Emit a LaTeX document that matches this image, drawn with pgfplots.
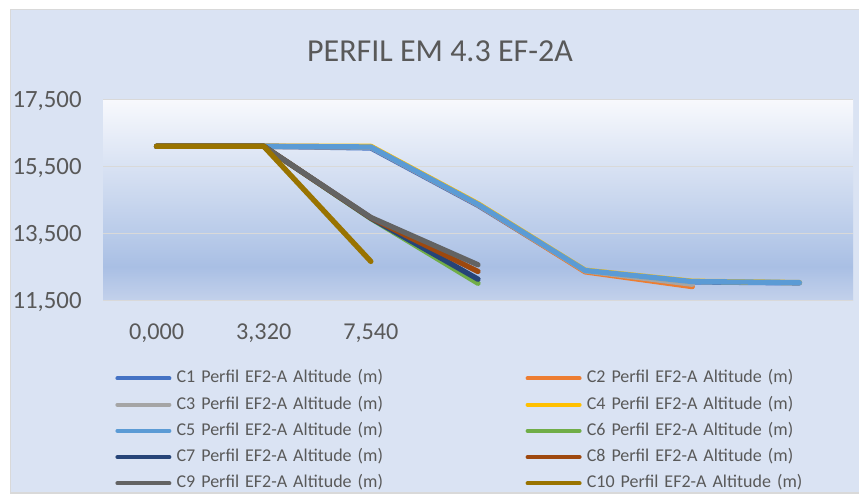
\documentclass[border=0pt]{standalone}
\usepackage{pgfplots}
\pgfplotsset{compat=1.18}
\usepackage{fontspec}
\setmainfont{Carlito}
\definecolor{txt}{HTML}{595959}
\definecolor{bgc}{HTML}{DAE3F3}
\definecolor{borderc}{HTML}{D9D9D9}
\definecolor{gridc}{HTML}{D9D9D9}
\definecolor{gbot}{HTML}{C3D1EB}
\definecolor{gdark}{HTML}{A9BFE4}
\definecolor{gmid}{HTML}{B2C6E7}
\definecolor{gtop}{HTML}{F8F9FD}
\definecolor{c1}{HTML}{4472C4}
\definecolor{c2}{HTML}{ED7D31}
\definecolor{c3}{HTML}{A5A5A5}
\definecolor{c4}{HTML}{FFC000}
\definecolor{c5}{HTML}{5B9BD5}
\definecolor{c6}{HTML}{70AD47}
\definecolor{c7}{HTML}{264478}
\definecolor{c8}{HTML}{9E480E}
\definecolor{c9}{HTML}{636363}
\definecolor{c10}{HTML}{997300}
\pgfdeclareverticalshading{plotbg}{100bp}{color(0bp)=(gbot); color(25bp)=(gbot); color(33.5bp)=(gdark); color(38bp)=(gmid); color(75bp)=(gtop); color(100bp)=(gtop)}
\begin{document}
\begin{tikzpicture}
\useasboundingbox (0,0) rectangle (429.5bp,-247bp);
\fill[white] (0,0) rectangle (429.5bp,-247bp);
\filldraw[fill=bgc, draw=borderc, line width=0.75bp] (5.25bp,-4.75bp) rectangle (432bp,-246.4bp);
\node[font=\fontsize{16bp}{19bp}\selectfont, text=txt, inner sep=0pt] at (220bp,-25.7bp) {PERFIL EM 4.3 EF-2A};
\begin{axis}[
  scale only axis, width=375bp, height=100.7bp,
  at={(51.5bp,-150.35bp)}, anchor=south west,
  xmin=-0.5, xmax=6.5, ymin=11500, ymax=17500,
  scaled y ticks=false,
  axis line style={draw=none}, tick style={draw=none}, major tick length=0pt,
  ytick={11500,13500,15500,17500},
  yticklabels={{11,500},{13,500},{15,500},{17,500}},
  xtick={0,1,2},
  xticklabels={{0,000},{3,320},{7,540}},
  ymajorgrids, grid style={draw=gridc, line width=0.75bp},
  axis background/.style={shade, shading=plotbg},
  tick label style={text=txt, inner sep=0pt},
  yticklabel style={font=\fontsize{12.4bp}{14bp}\selectfont, anchor=base east, xshift=-10.5bp, yshift=-3.9bp},
  xticklabel style={font=\fontsize{12.1bp}{14bp}\selectfont, anchor=base, yshift=-19.3bp},
  legend columns=2,
  legend cell align=left,
  legend style={at={(axis description cs:0.0160,-0.3370)}, anchor=north west, draw=none, fill=none, inner sep=0pt, row sep=3.6bp, font=\fontsize{9bp}{11bp}\selectfont, text=txt,
    nodes={inner sep=0pt, text height=7bp, text depth=2.5bp, text width=174.5bp, align=left, text=txt},
    /tikz/every odd column/.append style={column sep=2.6bp}},
  legend image code/.code={\draw[#1, line width=2bp, line cap=round] (0bp,0bp) -- (26bp,0bp);},
  every axis plot/.append style={line width=2.65bp, line cap=round, line join=round},
]
\addplot[color=c1] coordinates {(0,16100)(1,16100)(2,16050)(3,14340)(4,12380)(5,12060)(6,12030)};
\addlegendentry{C1 Perfil EF2-A Altitude (m)}
\addplot[color=c2] coordinates {(0,16100)(1,16100)(2,16080)(3,14360)(4,12360)(5,11920)};
\addlegendentry{C2 Perfil EF2-A Altitude (m)}
\addplot[color=c3] coordinates {(0,16100)(1,16100)(2,16080)(3,14370)(4,12390)(5,11990)};
\addlegendentry{C3 Perfil EF2-A Altitude (m)}
\addplot[color=c4] coordinates {(0,16100)(1,16100)(2,16100)(3,14390)(4,12410)(5,12080)(6,12040)};
\addlegendentry{C4 Perfil EF2-A Altitude (m)}
\addplot[color=c5] coordinates {(0,16100)(1,16100)(2,16080)(3,14370)(4,12400)(5,12070)(6,12040)};
\addlegendentry{C5 Perfil EF2-A Altitude (m)}
\addplot[color=c6] coordinates {(0,16100)(1,16100)(2,13950)(3,12020)};
\addlegendentry{C6 Perfil EF2-A Altitude (m)}
\addplot[color=c7] coordinates {(0,16100)(1,16100)(2,13960)(3,12140)};
\addlegendentry{C7 Perfil EF2-A Altitude (m)}
\addplot[color=c8] coordinates {(0,16100)(1,16100)(2,13970)(3,12370)};
\addlegendentry{C8 Perfil EF2-A Altitude (m)}
\addplot[color=c9] coordinates {(0,16100)(1,16100)(2,13980)(3,12570)};
\addlegendentry{C9 Perfil EF2-A Altitude (m)}
\addplot[color=c10] coordinates {(0,16100)(1,16100)(2,12670)};
\addlegendentry{C10 Perfil EF2-A Altitude (m)}
\end{axis}
\end{tikzpicture}
\end{document}
